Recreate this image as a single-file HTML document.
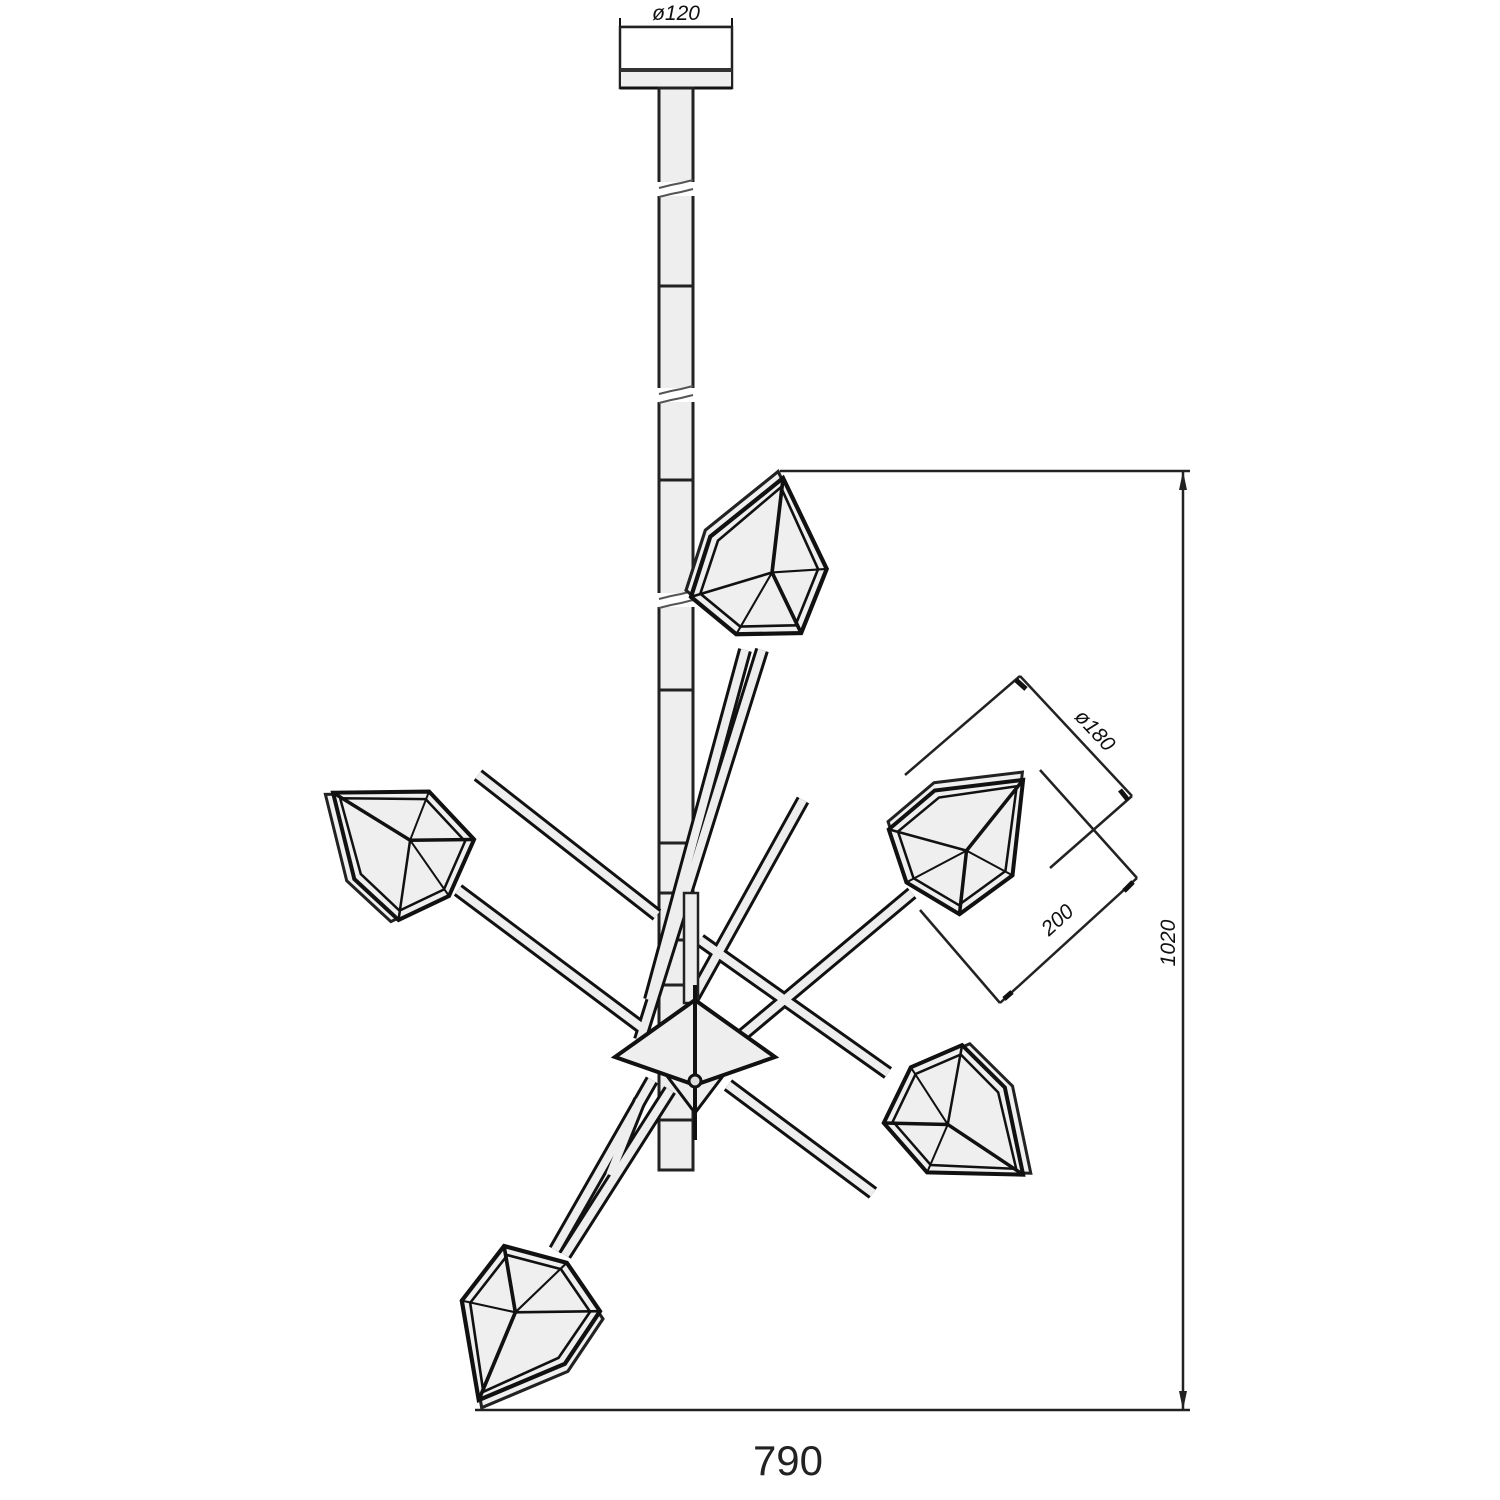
<!DOCTYPE html>
<html><head><meta charset="utf-8"><style>
html,body{margin:0;padding:0;background:#fff;}
svg{display:block}
text{font-family:"Liberation Sans",sans-serif;}
</style></head><body>
<svg width="1500" height="1500" viewBox="0 0 1500 1500" xmlns="http://www.w3.org/2000/svg">
<defs>
<g id="gem">
  <polygon points="6,90 61,20 66,-40 16,-65 -44,-50 -54,15" fill="#f0f0f0" stroke="#222" stroke-width="3"/>
  <polygon points="0,85 55,15 60,-45 10,-70 -50,-55 -60,10" fill="#efefef" stroke="#111" stroke-width="4"/>
  <polygon points="0,76 47,13 52,-40 8,-62 -43,-49 -52,8" fill="none" stroke="#111" stroke-width="2.5"/>
  <polyline points="0,85 -10,-5 -50,-55" fill="none" stroke="#111" stroke-width="3.5"/>
  <line x1="-10" y1="-5" x2="60" y2="-45" stroke="#111" stroke-width="2.5"/>
  <line x1="-10" y1="-5" x2="10" y2="-70" stroke="#111" stroke-width="2"/>
  <line x1="-10" y1="-5" x2="-60" y2="10" stroke="#111" stroke-width="2"/>
</g>
</defs>

<!-- canopy -->
<line x1="620" y1="27" x2="732" y2="27" stroke="#111" stroke-width="2.5"/>
<line x1="620" y1="18" x2="620" y2="35" stroke="#111" stroke-width="2"/>
<line x1="732" y1="18" x2="732" y2="35" stroke="#111" stroke-width="2"/>
<text x="676" y="20" font-size="21" font-style="italic" text-anchor="middle" fill="#111">ø120</text>
<rect x="620" y="27" width="112" height="61" fill="#fff" stroke="#222" stroke-width="2.5"/>
<rect x="621" y="70" width="110" height="18" fill="#eee" stroke="none"/>
<line x1="620" y1="70" x2="732" y2="70" stroke="#333" stroke-width="4"/>
<line x1="620" y1="88" x2="732" y2="88" stroke="#111" stroke-width="3"/>

<!-- stem -->
<rect x="659" y="88" width="34" height="1082" fill="#eee" stroke="#222" stroke-width="3"/>
<g fill="#fff" stroke="none">
  <rect x="655" y="182" width="42" height="14"/>
  <rect x="655" y="388" width="42" height="14"/>
  <rect x="655" y="593" width="42" height="14"/>
</g>
<g fill="none" stroke="#555" stroke-width="2">
  <path d="M659 188 l12 -3 l10 -2 l12 -3"/><path d="M659 197 l12 -3 l10 -2 l12 -3"/>
  <path d="M659 394 l12 -3 l10 -2 l12 -3"/><path d="M659 403 l12 -3 l10 -2 l12 -3"/>
  <path d="M659 599 l12 -3 l10 -2 l12 -3"/><path d="M659 608 l12 -3 l10 -2 l12 -3"/>
</g>
<g stroke="#222" stroke-width="3">
  <line x1="659" y1="286" x2="693" y2="286"/>
  <line x1="659" y1="480" x2="693" y2="480"/>
  <line x1="659" y1="690" x2="693" y2="690"/>
  <line x1="659" y1="843" x2="693" y2="843"/>
  <line x1="659" y1="893" x2="693" y2="893"/>
  <line x1="659" y1="940" x2="693" y2="940"/>
  <line x1="659" y1="985" x2="693" y2="985"/>
  <line x1="659" y1="1120" x2="693" y2="1120"/>
</g>

<!-- rods -->
<g stroke-linecap="butt">
  <g stroke="#111" stroke-width="14">
    <line x1="478" y1="775" x2="657" y2="915"/>
    <line x1="458" y1="890" x2="645" y2="1030"/>
    <line x1="700" y1="940" x2="888" y2="1073"/>
    <line x1="728" y1="1085" x2="873" y2="1193"/>
    <line x1="803" y1="800" x2="692" y2="1000"/>
    <line x1="912" y1="893" x2="740" y2="1037"/>
    <line x1="762" y1="650" x2="640" y2="1040"/>
    <line x1="745" y1="650" x2="650" y2="1000"/>
    <line x1="652" y1="1080" x2="555" y2="1250"/>
    <line x1="670" y1="1090" x2="565" y2="1255"/>
    <line x1="640" y1="1100" x2="610" y2="1175"/>
  </g>
  <g stroke="#eee" stroke-width="8">
    <line x1="478" y1="775" x2="657" y2="915"/>
    <line x1="458" y1="890" x2="645" y2="1030"/>
    <line x1="700" y1="940" x2="888" y2="1073"/>
    <line x1="728" y1="1085" x2="873" y2="1193"/>
    <line x1="803" y1="800" x2="692" y2="1000"/>
    <line x1="912" y1="893" x2="740" y2="1037"/>
    <line x1="762" y1="650" x2="640" y2="1040"/>
    <line x1="745" y1="650" x2="650" y2="1000"/>
    <line x1="652" y1="1080" x2="555" y2="1250"/>
    <line x1="670" y1="1090" x2="565" y2="1255"/>
    <line x1="640" y1="1100" x2="610" y2="1175"/>
  </g>
</g>
<rect x="684" y="893" width="14" height="110" fill="#eee" stroke="#222" stroke-width="2.5"/>

<!-- diamond plate -->
<polygon points="695,1085 735,1060 695,1113 655,1060" fill="#eee" stroke="#111" stroke-width="3"/>
<polygon points="615,1057 695,1000 775,1057 695,1085" fill="#eee" stroke="#111" stroke-width="4"/>
<line x1="695" y1="985" x2="695" y2="1140" stroke="#111" stroke-width="4"/>
<circle cx="695" cy="1081" r="6" fill="#ddd" stroke="#111" stroke-width="3"/>

<!-- shades -->
<use href="#gem" transform="translate(763,565) rotate(-167) scale(1.05)"/>
<use href="#gem" transform="translate(400,845) rotate(128) scale(1.0)"/>
<use href="#gem" transform="translate(963,840) rotate(-135) scale(1.0)"/>
<use href="#gem" transform="translate(958,1120) rotate(-50) scale(1.0)"/>
<use href="#gem" transform="translate(522,1322) rotate(29) scale(1.05)"/>

<!-- dimensions -->
<g stroke="#222" stroke-width="2.5" fill="none">
  <line x1="780" y1="471" x2="1190" y2="471"/>
  <line x1="1183" y1="471" x2="1183" y2="1410"/>
  <line x1="475" y1="1410" x2="1190" y2="1410"/>
  <!-- ø180 -->
  <line x1="1020" y1="676" x2="1132" y2="796"/>
  <line x1="1020" y1="676" x2="905" y2="775"/>
  <line x1="1132" y1="796" x2="1050" y2="868"/>
  <!-- 200 -->
  <line x1="1137" y1="878" x2="1000" y2="1003"/>
  <line x1="1137" y1="878" x2="1040" y2="770"/>
  <line x1="1000" y1="1003" x2="920" y2="910"/>
</g>
<g stroke="#111" stroke-width="5">
  <line x1="1016" y1="680" x2="1026" y2="689"/>
  <line x1="1128" y1="800" x2="1120" y2="790"/>
  <line x1="1133" y1="882" x2="1124" y2="891"/>
  <line x1="1004" y1="999" x2="1012" y2="992"/>
</g>
<polygon points="1183,471 1179,490 1187,490" fill="#222"/>
<polygon points="1183,1410 1179,1391 1187,1391" fill="#222"/>
<text transform="translate(1090,735) rotate(47)" font-size="21" font-style="italic" text-anchor="middle" fill="#111">ø180</text>
<text transform="translate(1062,925) rotate(-42)" font-size="21" font-style="italic" text-anchor="middle" fill="#111">200</text>
<text transform="translate(1175,943) rotate(-90)" font-size="21" font-style="italic" text-anchor="middle" fill="#111">1020</text>
<text x="788" y="1475" font-size="42" text-anchor="middle" fill="#222">790</text>
</svg>
</body></html>
